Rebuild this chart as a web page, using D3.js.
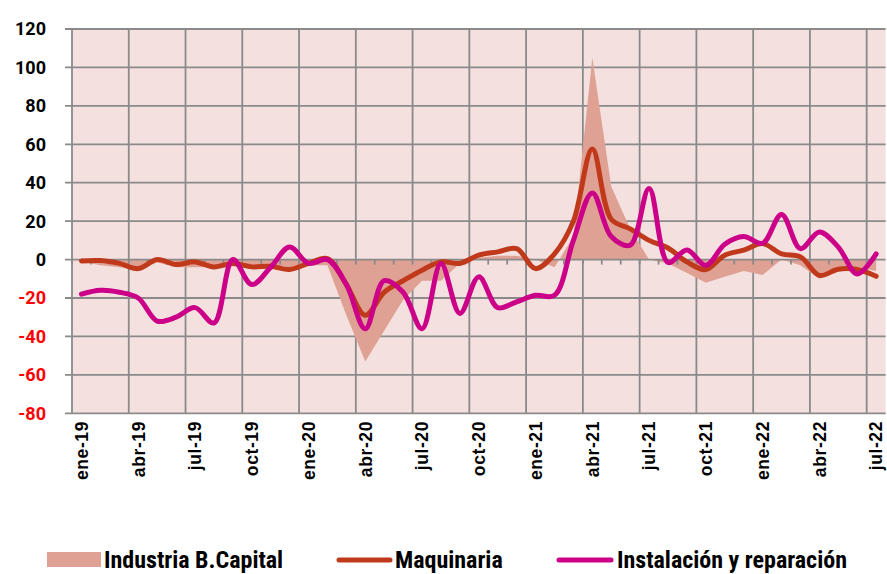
<html>
<head>
<meta charset="utf-8">
<script src="https://d3js.org/d3.v7.min.js"></script>
<style>
  body { margin: 0; background: #fff; }
  .ytick { font: bold 18px Roboto, "Liberation Sans", sans-serif; }
  .xtick { font: bold 17.5px "Liberation Sans", Arial, sans-serif; letter-spacing: 0.6px; }
  .legend text { font: bold 24px "Roboto Condensed", "Liberation Sans Narrow", "Arial Narrow", sans-serif; }
</style>
</head>
<body>
<svg id="chart" width="887" height="574"></svg>
<script>
// monthly, ene-19 .. jul-22
var mesesAbr = ["ene","feb","mar","abr","may","jun","jul","ago","sep","oct","nov","dic"];
var meses = [];
for (var a = 19; a <= 22; a++) {
  for (var m = 0; m < 12; m++) {
    if (a == 22 && m > 6) break;
    meses.push(mesesAbr[m] + "-" + a);
  }
}

var industria = [-1,-3,-4,-5,-1.5,-4,-4,-4,-2,-3,-3,-4,
  -3,-3,-29,-53,-37,-21,-11,-11,-2,1,2,2,
  0,-4,12,105,38,16,0,-2,-7,-12,-9,-6,
  -8,0,-3,-10,-5,-4,-6];
var maquinaria = [-0.7,-0.5,-2,-4.7,0,-2.6,-1.2,-3.8,-2,-3.8,-3.5,-5.2,
  -2,0.5,-13,-29,-17,-11,-5.5,-1.2,-2,2.3,4,5.7,
  -4.7,3,20,57.5,21,16,10,6,-1.2,-5.2,2.3,4.9,
  8.3,3,1.4,-8.2,-5,-5.2,-8.7];
var instalacion = [-18,-16,-17,-20,-32,-30,-25,-33,0,-13,-4,6.5,
  -2,0,-13,-36,-11,-17,-36,-2,-28,-9,-25,-22,
  -18.6,-18.6,10,34.7,12,7.5,37,-1.5,5,-3,8,12,
  8.5,23.5,5.7,14.4,6.5,-7.5,3];
var yTicks = [-80,-60,-40,-20,0,20,40,60,80,100,120];
var xLabels = meses.filter(function(d, i) { return i % 3 == 0; });

var pLeft = 72, pRight = 885.6, pTop = 29, pBottom = 413.3;
var gridCol = "#8a8a8a";
var svg = d3.select("#chart");

var x = d3.scaleBand().domain(meses).range([pLeft, pRight]).padding(0);
var cx = function(d) { return x(d) + x.bandwidth() / 2; };
var y = d3.scaleLinear().domain([-80, 120]).range([pBottom, pTop]);

// plot background
svg.append("rect")
  .attr("x", pLeft).attr("y", pTop)
  .attr("width", pRight - pLeft).attr("height", pBottom - pTop)
  .attr("fill", "#f4e1df");

// grid
svg.selectAll("line.h").data(yTicks.filter(function(d) { return d != 0; }))
  .enter().append("line")
  .attr("class", "h")
  .attr("x1", pLeft - 7).attr("x2", pRight)
  .attr("y1", function(d) { return y(d); }).attr("y2", function(d) { return y(d); })
  .style("stroke", gridCol).style("stroke-width", 1.8);
svg.selectAll("line.v").data(xLabels)
  .enter().append("line")
  .attr("class", "v")
  .attr("x1", function(d) { return x(d); }).attr("x2", function(d) { return x(d); })
  .attr("y1", pTop).attr("y2", pBottom)
  .style("stroke", gridCol).style("stroke-width", 1.8);

// area
var area = d3.area()
  .x(function(d, i) { return cx(meses[i]); })
  .y0(y(0))
  .y1(function(d) { return y(d); });
svg.append("path").datum(industria)
  .attr("d", area)
  .attr("fill", "#e0a195");

// zero axis with monthly ticks
svg.append("line").attr("x1", pLeft - 7).attr("x2", pRight).attr("y1", y(0)).attr("y2", y(0))
  .style("stroke", gridCol).style("stroke-width", 1.8);
svg.selectAll("line.t").data(meses).enter().append("line")
  .attr("class", "t")
  .attr("x1", function(d) { return x(d); }).attr("x2", function(d) { return x(d); })
  .attr("y1", y(0)).attr("y2", y(0) + 5)
  .style("stroke", gridCol).style("stroke-width", 1.8);

// lines
var line = d3.line()
  .x(function(d, i) { return cx(meses[i]); })
  .y(function(d) { return y(d); })
  .curve(d3.curveCatmullRom.alpha(0.5));
svg.append("path").datum(maquinaria)
  .attr("d", line).attr("fill", "none")
  .attr("stroke", "#c0391b").attr("stroke-width", 5).attr("stroke-linecap", "round");
svg.append("path").datum(instalacion)
  .attr("d", line).attr("fill", "none")
  .attr("stroke", "#cc0088").attr("stroke-width", 5).attr("stroke-linecap", "round");

// y labels
svg.selectAll("text.ytick").data(yTicks).enter().append("text")
  .attr("class", "ytick")
  .attr("x", 46).attr("y", function(d) { return y(d); })
  .attr("dy", "0.36em")
  .attr("text-anchor", "end")
  .attr("fill", function(d) { return d < 0 ? "#ff0000" : "#000"; })
  .text(function(d) { return d; });

// x labels
svg.selectAll("text.xtick").data(xLabels).enter().append("text")
  .attr("class", "xtick")
  .attr("transform", function(d) { return "translate(" + cx(d) + ",421) rotate(-90)"; })
  .attr("dy", "0.36em")
  .attr("text-anchor", "end")
  .text(function(d) { return d; });

// legend
var lg = svg.append("g").attr("class", "legend");
lg.append("rect").attr("x", 47).attr("y", 552).attr("width", 54).attr("height", 15).attr("fill", "#e0a195");
lg.append("text").attr("x", 104).attr("y", 568).text("Industria B.Capital");
lg.append("line").attr("x1", 339).attr("x2", 390).attr("y1", 560).attr("y2", 560)
  .attr("stroke", "#c0391b").attr("stroke-width", 5).attr("stroke-linecap", "round");
lg.append("text").attr("x", 395).attr("y", 568).text("Maquinaria");
lg.append("line").attr("x1", 559).attr("x2", 611).attr("y1", 560).attr("y2", 560)
  .attr("stroke", "#cc0088").attr("stroke-width", 5).attr("stroke-linecap", "round");
lg.append("text").attr("x", 617).attr("y", 568).text("Instalación y reparación");
</script>
</body>
</html>
